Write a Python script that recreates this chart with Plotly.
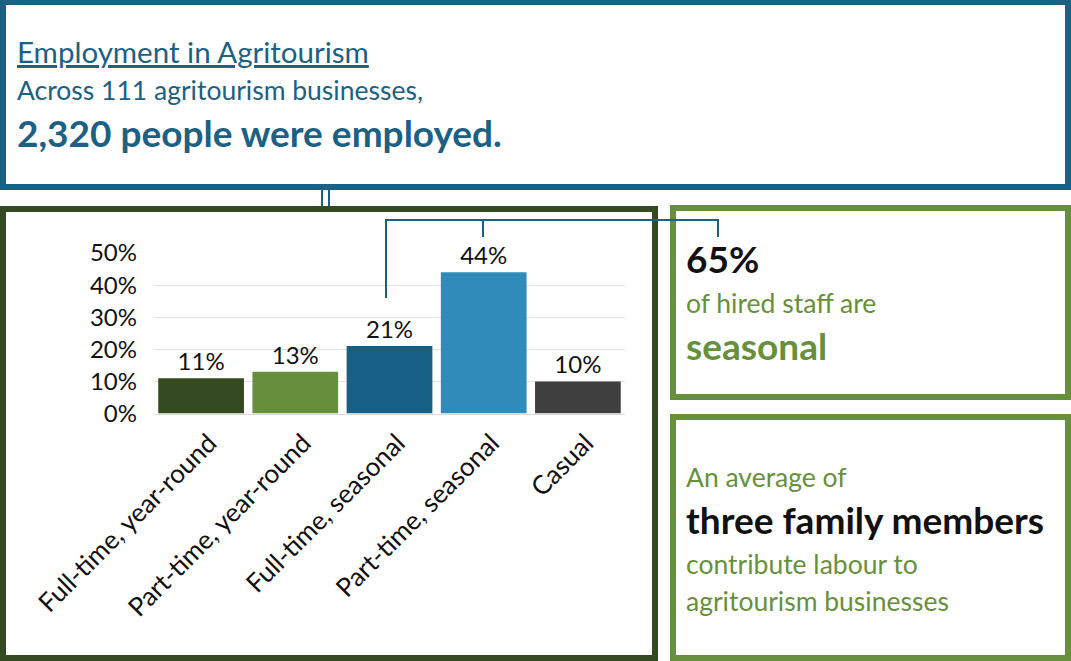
import plotly.graph_objects as go

# Share of hired staff by employment type
categories = ["Full-time, year-round", "Part-time, year-round", "Full-time, seasonal",
              "Part-time, seasonal", "Casual"]
shares = [11, 13, 21, 44, 10]
bar_colors = ["#344a21", "#668e3c", "#175f84", "#2e8bba", "#404040"]
y_ticks = [0, 10, 20, 30, 40, 50]

W, H = 1071, 661
BLUE = "#1b6184"
DARK_GREEN = "#344a21"
GREEN = "#66903c"
FONT = "Lato"


def px(x):
    return x / W


def py(y):
    return 1 - y / H


fig = go.Figure()
fig.add_trace(go.Bar(
    x=categories,
    y=shares,
    marker=dict(color=bar_colors, line=dict(width=0)),
    text=[f"{v}%" for v in shares],
    textposition="outside",
    textfont=dict(family=FONT, size=24, color="#111111"),
    cliponaxis=False,
    hoverinfo="skip",
))

shapes = []


def box(x0, y0, x1, y1, color, width=6):
    shapes.append(dict(type="rect", xref="paper", yref="paper",
                       x0=px(x0), x1=px(x1), y0=py(y0), y1=py(y1),
                       line=dict(color=color, width=width), fillcolor="rgba(0,0,0,0)"))


def seg(x0, y0, x1, y1, color=BLUE, width=2):
    shapes.append(dict(type="line", xref="paper", yref="paper",
                       x0=px(x0), x1=px(x1), y0=py(y0), y1=py(y1),
                       line=dict(color=color, width=width)))


# panels
box(3, 2, 1068, 187, BLUE)
box(3, 209, 655, 658, DARK_GREEN)
box(673, 208, 1068, 397, GREEN)
box(673, 417, 1068, 658, GREEN)

# double connector between the headline panel and the chart panel
seg(322, 190, 322, 206)
seg(329, 190, 329, 206)

# bracket joining the seasonal bars to the 65% panel
seg(386, 298, 386, 220)
seg(385, 220, 719, 220)
seg(483, 220, 483, 237)
seg(718, 220, 718, 237)

annotations = []


def label(x, y, text, size, color, bold=False):
    annotations.append(dict(
        xref="paper", yref="paper", x=px(x), y=py(y),
        xanchor="left", yanchor="middle", showarrow=False,
        text=f"<b>{text}</b>" if bold else text,
        font=dict(family=FONT, size=size, color=color),
    ))


label(15, 52, "<u>Employment in Agritourism</u>", 29.5, BLUE)
label(15, 90, "Across 111 agritourism businesses,", 26.5, BLUE)
label(15, 133, "2,320 people were employed.", 37, BLUE, bold=True)

label(684, 258, "65%", 37, "#111111", bold=True)
label(684, 303, "of hired staff are", 26.5, GREEN)
label(684, 345, "seasonal", 37, GREEN, bold=True)

label(684, 477, "An average of", 26.5, GREEN)
label(684, 519, "three family members", 37, "#111111", bold=True)
label(684, 564, "contribute labour to", 26.5, GREEN)
label(684, 601, "agritourism businesses", 26.5, GREEN)

fig.update_layout(
    width=W, height=H,
    margin=dict(l=0, r=0, t=0, b=0, autoexpand=False),
    paper_bgcolor="white",
    plot_bgcolor="white",
    showlegend=False,
    bargap=0.09,
    shapes=shapes,
    annotations=annotations,
    xaxis=dict(
        domain=[px(154), px(625)],
        automargin=False,
        tickangle=-45,
        tickfont=dict(family=FONT, size=26, color="#111111"),
        showline=True, linecolor="#d9d9d9", linewidth=1,
        ticks="", ticklabelstandoff=3, ticklabelshift=8,
        showgrid=False, fixedrange=True,
    ),
    yaxis=dict(
        domain=[py(413.5), py(253)],
        automargin=False,
        range=[0, 50],
        tickvals=y_ticks,
        ticktext=[f"{v}%" for v in y_ticks],
        tickfont=dict(family=FONT, size=24, color="#111111"),
        showgrid=True, gridcolor="#e3e3e3", gridwidth=1,
        zeroline=False, showline=False,
        ticks="", ticklabelstandoff=16, fixedrange=True,
    ),
)

fig.write_html("out.html")
